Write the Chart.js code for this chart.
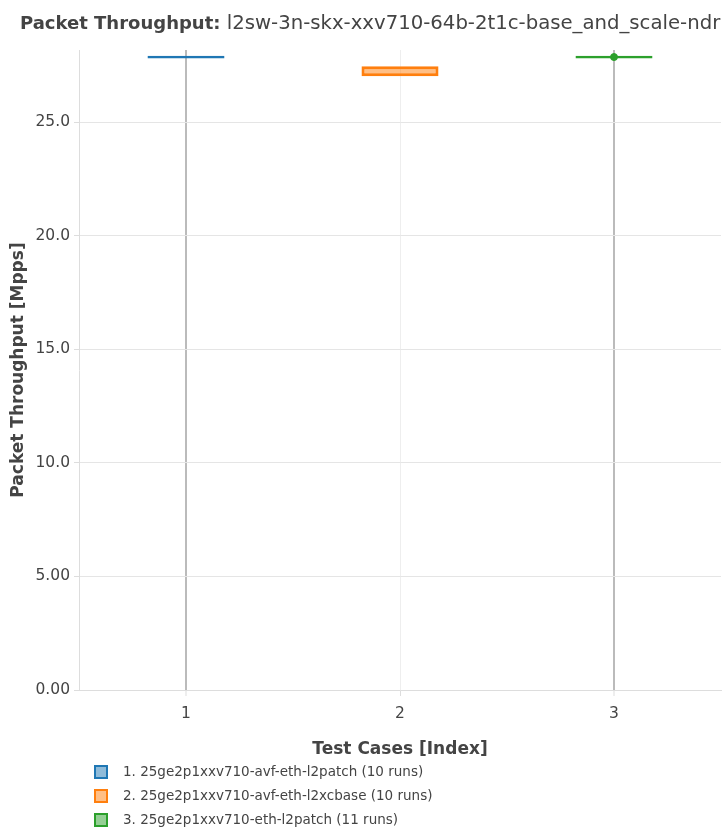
<!DOCTYPE html>
<html>
<head>
<meta charset="utf-8">
<script src="https://cdn.jsdelivr.net/npm/chart.js@4"></script>
<style>
  html, body { margin: 0; padding: 0; background: #fff; }
</style>
</head>
<body>
<canvas id="chart" width="726" height="839"></canvas>
<script>
const categories = ['1', '2', '3'];
const testNames = [
  '1. 25ge2p1xxv710-avf-eth-l2patch (10 runs)',
  '2. 25ge2p1xxv710-avf-eth-l2xcbase (10 runs)',
  '3. 25ge2p1xxv710-eth-l2patch (11 runs)'
];
const boxLow = [27.80, 27.02, 27.80];
const boxHigh = [27.92, 27.46, 27.92];
const outliers = [null, null, 27.86];
const yTicks = [0, 5, 10, 15, 20, 25];

const lineColors = ['#1f77b4', '#ff7f0e', '#2ca02c'];
const fillColors = ['rgba(31,119,180,0.5)', 'rgba(255,127,14,0.5)', 'rgba(44,160,44,0.5)'];
const FONT = '"DejaVu Sans", sans-serif';
const TEXT = '#444';

// title and legend are drawn by hand, plotly-style
const extras = {
  id: 'extras',
  afterDraw(chart) {
    const ctx = chart.ctx;
    ctx.save();
    ctx.fillStyle = TEXT;
    ctx.textBaseline = 'middle';
    ctx.font = 'bold 18px ' + FONT;
    const bold = 'Packet Throughput: ';
    ctx.fillText(bold, 20, 24);
    const w = ctx.measureText(bold).width;
    ctx.font = '19.7px ' + FONT;
    ctx.fillText('l2sw-3n-skx-xxv710-64b-2t1c-base_and_scale-ndr', 20 + w, 24);

    ctx.font = '13.5px ' + FONT;
    testNames.forEach((name, i) => {
      const y = 772 + i * 24;
      ctx.fillStyle = fillColors[i];
      ctx.fillRect(95, y - 6, 12, 12);
      ctx.strokeStyle = lineColors[i];
      ctx.lineWidth = 2;
      ctx.strokeRect(95, y - 6, 12, 12);
      ctx.fillStyle = TEXT;
      ctx.fillText(name, 123, y);
    });
    ctx.restore();
  }
};

new Chart(document.getElementById('chart'), {
  data: {
    labels: categories,
    datasets: [
      {
        type: 'bar',
        data: categories.map((c, i) => [boxLow[i], boxHigh[i]]),
        backgroundColor: fillColors,
        borderColor: lineColors,
        borderWidth: 3,
        borderSkipped: false,
        categoryPercentage: 1,
        barPercentage: 0.36
      },
      {
        type: 'line',
        data: outliers,
        showLine: false,
        pointRadius: 3.5,
        pointBackgroundColor: lineColors[2],
        pointBorderColor: lineColors[2]
      }
    ]
  },
  options: {
    responsive: false,
    animation: false,
    layout: { padding: { top: 50, right: 5, bottom: 79, left: 0 } },
    plugins: { legend: { display: false }, tooltip: { enabled: false } },
    scales: {
      x: {
        offset: true,
        grid: {
          offset: false,
          color: ctx => ctx.index === 1 ? '#eeeeee' : '#bbbbbb',
          lineWidth: ctx => ctx.index === 1 ? 1 : 2,
          tickLength: 6,
          tickColor: '#dddddd',
          tickWidth: 1
        },
        border: { color: '#dddddd' },
        ticks: { color: TEXT, font: { family: FONT, size: 15.5 }, padding: 9 },
        title: {
          display: true,
          text: 'Test Cases [Index]',
          color: TEXT,
          font: { family: FONT, size: 17, weight: 'bold' },
          padding: { top: 5, bottom: 0 }
        },
        afterFit: s => { s.height = 70; }
      },
      y: {
        min: 0,
        max: 28.17,
        afterBuildTicks: s => { s.ticks = yTicks.map(v => ({ value: v })); },
        grid: { color: '#e5e5e5', tickLength: 5, tickColor: '#dddddd' },
        border: { color: '#dddddd' },
        ticks: {
          color: TEXT,
          font: { family: FONT, size: 15.5 },
          padding: 4,
          callback: v => v.toPrecision(3)
        },
        title: {
          display: true,
          text: 'Packet Throughput [Mpps]',
          color: TEXT,
          font: { family: FONT, size: 17, weight: 'bold' },
          padding: { top: 8, bottom: 2 }
        },
        afterFit: s => { s.width = 79; }
      }
    }
  },
  plugins: [extras]
});
</script>
</body>
</html>
